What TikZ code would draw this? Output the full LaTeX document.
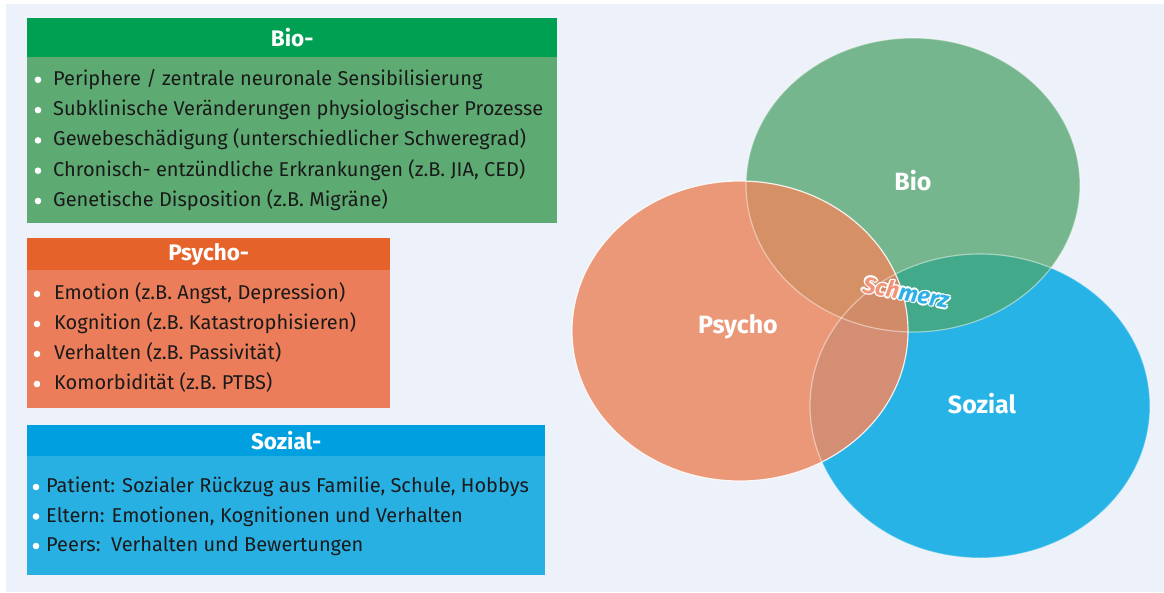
\documentclass[tikz,border=0pt]{standalone}
\usepackage{fontspec}
\setmainfont{Fira Sans}
\definecolor{bg}{HTML}{EDF1F9}
\definecolor{bioH}{HTML}{00A052}
\definecolor{bioB}{HTML}{5DAB73}
\definecolor{psyH}{HTML}{E5622A}
\definecolor{psyB}{HTML}{EC7D5A}
\definecolor{sozH}{HTML}{00A0E0}
\definecolor{sozB}{HTML}{29B0E3}
\definecolor{bioE}{HTML}{76B68E}
\definecolor{psyE}{HTML}{EA9878}
\definecolor{sozE}{HTML}{27B3E5}
\definecolor{bioPsy}{HTML}{D69066}
\definecolor{bioSoz}{HTML}{42A98B}
\definecolor{psySoz}{HTML}{D48E74}
\definecolor{triE}{HTML}{D28B68}
\definecolor{txt}{HTML}{1A1A1A}
\definecolor{schA}{HTML}{F0957A}
\definecolor{schB}{HTML}{2EAFE6}
\begin{document}
\begin{tikzpicture}[x=1pt,y=-1pt,
  hdr/.style={anchor=north west, inner sep=0pt, text=white, font=\fontsize{22.5}{26}\selectfont\bfseries},
  boxbody/.style={anchor=north west, inner sep=0pt},
  item/.style={anchor=base west, inner sep=0pt, text=txt, font=\fontsize{20}{24}\selectfont},
  venn/.style={text=white, font=\fontsize{25}{29}\selectfont\bfseries},
  ring/.style={draw=white, line width=1.2pt},
  schm/.style={rotate=-11, font=\fontsize{23}{26}\selectfont\bfseries\itshape}]
\useasboundingbox (0,0) rectangle (1164,592);
\fill[white] (0,0) rectangle (1164,592);
\fill[bg] (6,4) rectangle (1164,592);

% ---- Bio box
\node[boxbody, fill=bioB, minimum width=530pt, minimum height=166pt] (biob) at (27,57) {};
\node[hdr, fill=bioH, minimum width=530pt, minimum height=39pt] (bioh) at (27,18) {Bio-};
\foreach \t [count=\i] in {Periphere / zentrale neuronale Sensibilisierung,
  Subklinische Veränderungen physiologischer Prozesse,
  Gewebeschädigung (unterschiedlicher Schweregrad),
  Chronisch- entzündliche Erkrankungen (z.B. JIA{,} CED),
  Genetische Disposition (z.B. Migräne)}{
  \fill[white] (38,{49.5+30.3*\i}) circle (3.3);
  \node[item] (bio\i) at (53,{55+30.3*\i}) {\t};
}

% ---- Psycho box
\node[boxbody, fill=psyB, minimum width=363pt, minimum height=138pt] (psyb) at (27,270) {};
\node[hdr, fill=psyH, minimum width=363pt, minimum height=32pt] (psyh) at (27,238) {Psycho-};
\foreach \t [count=\i] in {Emotion (z.B. Angst{,} Depression),
  Kognition (z.B. Katastrophisieren),
  Verhalten (z.B. Passivität),
  Komorbidität (z.B. PTBS)}{
  \fill[white] (37,{264+30*\i}) circle (3.3);
  \node[item] (psy\i) at (54,{269.5+30*\i}) {\t};
}

% ---- Sozial box
\node[boxbody, fill=sozB, minimum width=518pt, minimum height=119pt] (sozb) at (27,456) {};
\node[hdr, fill=sozH, minimum width=518pt, minimum height=31pt] (sozh) at (27,425) {Sozial-};
\foreach \t [count=\i] in {Patient: Sozialer Rückzug aus Familie{,} Schule{,} Hobbys,
  Eltern: Emotionen{,} Kognitionen und Verhalten,
  Peers:\ \ Verhalten und Bewertungen}{
  \fill[white] (36,{457.5+29.5*\i}) circle (3.3);
  \node[item] (soz\i) at (46,{463+29.5*\i}) {\t};
}

% ---- Venn ellipses
\def\bioEl{(913,185) ellipse [x radius=167, y radius=147]}
\def\psyEl{(740,331) ellipse [x radius=168, y radius=150]}
\def\sozEl{(980,406) ellipse [x radius=170, y radius=152]}
\fill[sozE] \sozEl;
\fill[bioE] \bioEl;
\fill[psyE] \psyEl;
\begin{scope}\clip \bioEl; \fill[bioSoz] \sozEl; \end{scope}
\begin{scope}\clip \psyEl; \fill[bioPsy] \bioEl; \end{scope}
\begin{scope}\clip \psyEl; \fill[psySoz] \sozEl; \end{scope}
\begin{scope}\clip \psyEl; \clip \bioEl; \fill[triE] \sozEl; \end{scope}
\draw[ring, draw opacity=0.45] \sozEl;
\draw[ring, draw opacity=0.45] \bioEl;
\draw[ring, draw opacity=0.85] \psyEl;

\node[venn] (bio) at (913,181) {Bio};
\node[venn] (psy) at (738,327) {Psycho};
\node[venn] (soz) at (982,404) {Sozial};

% ---- Schmerz (white halo behind coloured text)
\foreach \a in {0,45,...,315}{
  \node[schm, text=white, shift={(\a:1.5)}] at (906,292) {Schmerz};
}
\node[schm] (schmerz) at (906,292) {\textcolor{schA}{Sch}\textcolor{schB}{merz}};
\end{tikzpicture}
\end{document}
